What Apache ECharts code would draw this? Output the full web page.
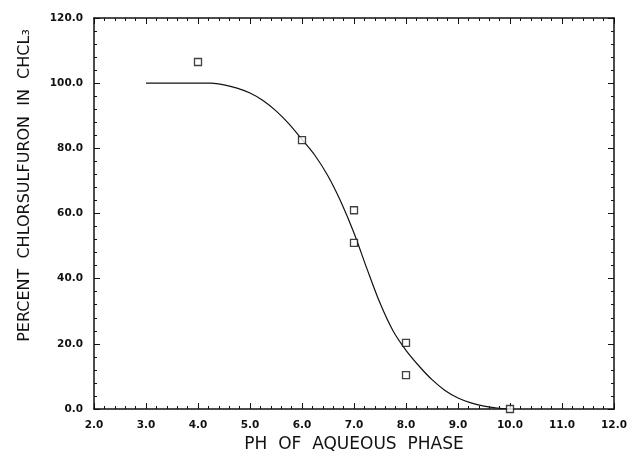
<!DOCTYPE html>
<html>
<head>
<meta charset="utf-8">
<title>Chlorsulfuron partition vs pH</title>
<script src="https://cdn.jsdelivr.net/npm/echarts@6/dist/echarts.min.js"></script>
<style>
    html, body { margin: 0; padding: 0; background: #fff; }
    #chart { width: 631px; height: 458px; }
</style>
</head>
<body>
<div id="chart"></div>
<script>
// --------------------------------------------------------------
// Data
// --------------------------------------------------------------

// measured points (open squares)
const measuredPH = [4.0, 6.0, 7.0, 7.0, 8.0, 8.0, 10.0];
const measuredPct = [106.5, 82.5, 61.0, 51.0, 20.3, 10.4, 0.0];

// fitted curve
const curvePH = [3.0, 4.0, 4.25, 4.5, 4.75, 5.0, 5.25, 5.5, 5.75, 6.0, 6.25, 6.5, 6.75,
    7.0, 7.25, 7.5, 7.75, 8.0, 8.25, 8.5, 8.75, 9.0, 9.25, 9.5, 9.75, 10.0];
const curvePct = [100, 100, 100, 99.5, 98.5, 97, 94.7, 91.5, 87.5, 82.7, 77.8, 71.5, 63.5,
    54, 43, 32.5, 24, 18, 13.2, 9.0, 5.7, 3.4, 1.9, 0.9, 0.3, 0];

const X_MIN = 2, X_MAX = 12, X_STEP = 1;
const Y_MIN = 0, Y_MAX = 120, Y_STEP = 20;

const INK = "#111";
const FONT = "DejaVu Sans";

// --------------------------------------------------------------
// Axis helpers
// --------------------------------------------------------------

function frameAxis(extra) {
    return Object.assign({
        type: "value",
        axisLine: { show: true, onZero: false, lineStyle: { color: INK, width: 1.5 } },
        axisTick: { show: true, inside: true, length: 6, lineStyle: { color: INK, width: 1 } },
        minorTick: { show: true, splitNumber: 5, length: 3, lineStyle: { color: INK, width: 1 } },
        splitLine: { show: false },
        axisLabel: { show: false }
    }, extra);
}

const tickLabel = {
    show: true,
    color: INK,
    fontFamily: FONT,
    fontSize: 10.5,
    fontWeight: "bold",
    formatter: v => v.toFixed(1)
};

const chart = echarts.init(document.getElementById("chart"), null, { renderer: "canvas" });

chart.setOption({
    backgroundColor: "#fff",
    animation: false,
    grid: { left: 94, right: 17, top: 18, bottom: 43, containLabel: false },
    xAxis: [
        frameAxis({
            position: "bottom",
            min: X_MIN, max: X_MAX, interval: X_STEP,
            axisLabel: Object.assign({}, tickLabel, { margin: 11 }),
            name: "PH  OF  AQUEOUS  PHASE",
            nameLocation: "middle",
            nameGap: 27,
            nameTextStyle: { color: INK, fontFamily: FONT, fontSize: 17 }
        }),
        frameAxis({ position: "top", min: X_MIN, max: X_MAX, interval: X_STEP })
    ],
    yAxis: [
        frameAxis({
            position: "left",
            min: Y_MIN, max: Y_MAX, interval: Y_STEP,
            axisLabel: Object.assign({}, tickLabel, { margin: 11 }),
            name: "PERCENT  CHLORSULFURON  IN  CHCL₃",
            nameLocation: "middle",
            nameGap: 61,
            nameTextStyle: { color: INK, fontFamily: FONT, fontSize: 16, padding: [0, 0, 0, 56] }
        }),
        frameAxis({ position: "right", min: Y_MIN, max: Y_MAX, interval: Y_STEP })
    ],
    series: [
        {
            name: "fit",
            type: "line",
            data: curvePH.map((x, i) => [x, curvePct[i]]),
            smooth: 0.3,
            showSymbol: false,
            lineStyle: { color: INK, width: 1.2 },
            z: 2
        },
        {
            name: "measured",
            type: "scatter",
            data: measuredPH.map((x, i) => [x, measuredPct[i]]),
            symbol: "rect",
            symbolSize: 7,
            itemStyle: { color: "#fff", borderColor: INK, borderWidth: 1.3 },
            z: 3
        }
    ]
});
</script>
</body>
</html>
